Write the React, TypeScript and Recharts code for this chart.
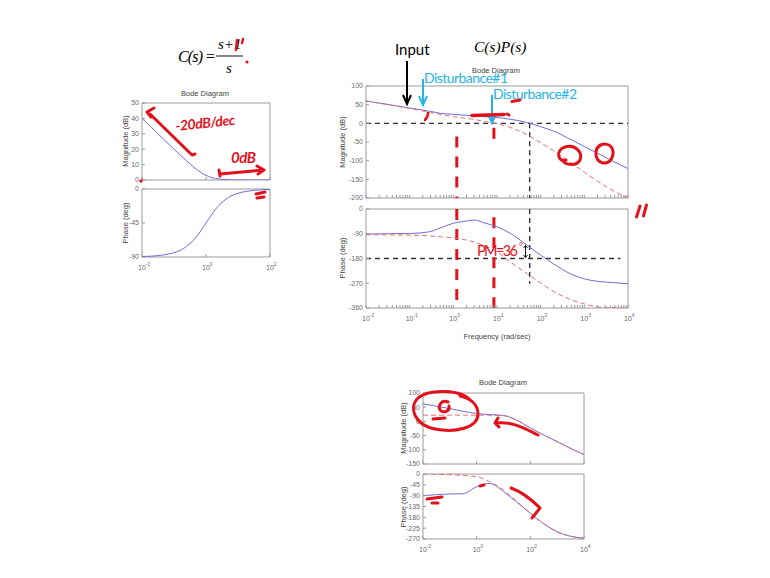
import React from 'react';
import { LineChart, Line, XAxis, YAxis, ReferenceLine, ReferenceArea } from 'recharts';

// ---------- data: C(s) = (s+1)/s ----------
const freqLeft = [0.01, 0.02, 0.05, 0.1, 0.2, 0.5, 1, 2, 5, 10, 20, 50, 100];
const magLeft = [40, 34, 26, 20, 14.2, 7, 3, 1, 0.2, 0.04, 0, 0, 0];
const phaseLeft = [-89.4, -88.9, -87.1, -84.3, -78.7, -63.4, -45, -26.6, -11.3, -5.7, -2.9, -1.1, -0.6];

// ---------- data: C(s)P(s) (blue) and P(s) (red dashed) ----------
const freqMid = [0.01, 0.03, 0.1, 0.3, 0.5, 1, 2, 3, 5, 10, 20, 50, 100, 200, 500, 1000, 2000, 5000, 10000];
const magOpen = [60, 51, 41, 32, 27, 24, 21.5, 20, 18, 15.5, 11, 2, -9, -21, -44, -62, -80, -104, -121];
const magPlant = [60, 50.5, 40, 29, 24, 18, 13, 10.5, 5, -1, -11, -31, -52, -74, -106, -131, -155, -183, -200];
const phaseOpen = [-91, -90, -89, -82, -69, -52, -44, -40, -50, -65, -88, -133, -168, -200, -237, -254, -263, -268, -272];
const phasePlant = [-94, -94, -95, -98, -101, -105, -113, -120, -133, -156, -192, -236, -269, -300, -330, -345, -356, -359, -360];

// ---------- data: bottom Bode diagram ----------
const freqBottom = [0.01, 0.03, 0.1, 0.3, 1, 3, 10, 30, 100, 300, 1000, 3000, 10000];
const magBottomBlue = [62, 54, 45, 36, 28, 24, 21, 5, -23, -47, -71, -94, -117];
const magBottomRed = [22, 22, 22, 22, 22, 21.5, 20, 5, -23, -47, -71, -94, -117];
const phaseBottomBlue = [-90, -86, -83, -82, -53, -39, -73, -115, -163, -205, -240, -258, -267];
const phaseBottomRed = [0, -1, -3, -6, -11, -32, -66, -112, -163, -205, -240, -258, -267];

// ---------- ticks ----------
const decadesMid = [0.01, 0.1, 1, 10, 100, 1000, 10000];
const minorMultipliers = [2, 3, 4, 5, 6, 7, 8, 9];
const ticksLeftX = [0.01, 1, 100];
const ticksBottomX = [0.01, 1, 100, 10000];
const ticksMagLeft = [0, 10, 20, 30, 40, 50];
const ticksPhaseLeft = [-90, -45, 0];
const ticksMagMid = [-200, -150, -100, -50, 0, 50, 100];
const ticksPhaseMid = [-360, -270, -180, -90, 0];
const ticksMagBottom = [-150, -100, -50, 0, 50, 100];
const ticksPhaseBottom = [-270, -225, -180, -135, -90, -45, 0];

const minorMid = decadesMid.slice(0, -1).flatMap((d) => minorMultipliers.map((m) => d * m));
const ticksMidX = [...decadesMid, ...minorMid].sort((a, b) => a - b);

const BLUE = '#6c6cdc';
const RED = '#e07272';
const FRAME = '#9a9a9a';
const TICK = '#6a6a6a';
const HAND = '#e2121c';
const CYAN = '#27b3e6';
const SANS = '"Liberation Sans", Arial, sans-serif';
const SERIF = '"Liberation Serif", "Times New Roman", serif';
const SLIDE = 'Lato, "Open Sans", sans-serif';

const PAD_L = 36;
const PAD_R = 8;
const PAD_T = 6;
const PAD_B = 22;

function LogTick(props: any) {
  const { x, y, payload, labels } = props;
  const v = payload.value;
  if (!labels || !labels.some((l: number) => Math.abs(l - v) / l < 1e-6)) return <g />;
  const e = Math.round(Math.log10(v));
  return (
    <text x={x - 4} y={y + 13} textAnchor="start" fontSize={7} fill={TICK} fontFamily={SANS}>
      <tspan>10</tspan>
      <tspan dy={-4} fontSize={5}>{String(e)}</tspan>
    </text>
  );
}

type Box = { l: number; t: number; r: number; b: number };
type Series = { key: string; color: string; dash?: string };

function Panel(props: {
  box: Box;
  data: any[];
  xDomain: [number, number];
  xTicks: number[];
  xLabels: number[];
  yDomain: [number, number];
  yTicks: number[];
  lines: Series[];
  children?: React.ReactNode;
}) {
  const { box, data, xDomain, xTicks, xLabels, yDomain, yTicks, lines, children } = props;
  const w = box.r - box.l + PAD_L + PAD_R;
  const h = box.b - box.t + PAD_T + PAD_B;
  return (
    <div style={{ position: 'absolute', left: box.l - PAD_L, top: box.t - PAD_T }}>
      <LineChart width={w} height={h} data={data} margin={{ top: PAD_T, right: PAD_R, left: 0, bottom: 0 }}>
        <XAxis
          dataKey="w"
          type="number"
          scale="log"
          domain={xDomain}
          ticks={xTicks}
          interval={0}
          height={PAD_B}
          tickSize={-3}
          tickMargin={3}
          axisLine={false}
          tickLine={{ stroke: FRAME }}
          tick={(p: any) => <LogTick {...p} labels={xLabels} />}
          allowDataOverflow
        />
        <YAxis
          type="number"
          domain={yDomain}
          ticks={yTicks}
          interval={0}
          width={PAD_L}
          tickSize={-3}
          tickMargin={6}
          axisLine={false}
          tickLine={{ stroke: FRAME }}
          tick={{ fontSize: 7, fill: TICK, fontFamily: SANS }}
          allowDataOverflow
        />
        <ReferenceArea
          x1={xDomain[0]}
          x2={xDomain[1]}
          y1={yDomain[0]}
          y2={yDomain[1]}
          fill="none"
          fillOpacity={0}
          stroke={FRAME}
          strokeWidth={1}
        />
        {children}
        {lines.map((s) => (
          <Line
            key={s.key}
            dataKey={s.key}
            type="monotone"
            stroke={s.color}
            strokeWidth={1}
            strokeDasharray={s.dash}
            dot={false}
            activeDot={false}
            isAnimationActive={false}
          />
        ))}
      </LineChart>
    </div>
  );
}

const dataLeft = freqLeft.map((w, i) => ({ w, mag: magLeft[i], ph: phaseLeft[i] }));
const dataMid = freqMid.map((w, i) => ({ w, mo: magOpen[i], mp: magPlant[i], po: phaseOpen[i], pp: phasePlant[i] }));
const dataBottom = freqBottom.map((w, i) => ({
  w,
  mb: magBottomBlue[i],
  mr: magBottomRed[i],
  pb: phaseBottomBlue[i],
  pr: phaseBottomRed[i],
}));

const BLACK_DASH = { stroke: '#333', strokeDasharray: '5 4', strokeWidth: 1.4 };
const HAND_DASH = { stroke: HAND, strokeDasharray: '11 9', strokeWidth: 3 };

function AxisTitle({ x, y, text, rotate }: { x: number; y: number; text: string; rotate?: boolean }) {
  return (
    <text
      x={x}
      y={y}
      textAnchor="middle"
      fontSize={7.5}
      fill="#444"
      fontFamily={SANS}
      transform={rotate ? `rotate(-90 ${x} ${y})` : undefined}
    >
      {text}
    </text>
  );
}

function Annotations() {
  const hs = { stroke: HAND, strokeWidth: 3, fill: 'none', strokeLinecap: 'round' as const, strokeLinejoin: 'round' as const };
  return (
    <svg width={770} height={578} style={{ position: 'absolute', left: 0, top: 0, pointerEvents: 'none' }}>
      {/* formula C(s) = (s+1)/s */}
      <text x={178} y={62} fontSize={16} fontStyle="italic" fontFamily={SERIF} textLength={25}>C(s)</text>
      <text x={206} y={62} fontSize={16} fontFamily={SERIF}>=</text>
      <text x={218} y={49} fontSize={15} fontStyle="italic" fontFamily={SERIF}>s+1</text>
      <line x1={216} y1={56} x2={243} y2={56} stroke="#111" strokeWidth={1} />
      <text x={226} y={73} fontSize={15} fontStyle="italic" fontFamily={SERIF}>s</text>
      <path d="M237,40 L236,50 M243,39 L242,43" {...hs} strokeWidth={2.5} />
      <circle cx={247} cy={62} r={1.6} fill={HAND} />

      {/* titles and axis labels */}
      <text x={205} y={96} textAnchor="middle" fontSize={7.5} fill="#444" fontFamily={SANS}>Bode Diagram</text>
      <text x={496} y={73} textAnchor="middle" fontSize={7.5} fill="#444" fontFamily={SANS}>Bode Diagram</text>
      <text x={503} y={385} textAnchor="middle" fontSize={7.5} fill="#444" fontFamily={SANS}>Bode Diagram</text>
      <AxisTitle x={128} y={141} text="Magnitude (dB)" rotate />
      <AxisTitle x={128} y={223} text="Phase (deg)" rotate />
      <AxisTitle x={345} y={142} text="Magnitude (dB)" rotate />
      <AxisTitle x={345} y={258} text="Phase (deg)" rotate />
      <AxisTitle x={497} y={339} text="Frequency  (rad/sec)" />
      <AxisTitle x={406} y={428} text="Magnitude (dB)" rotate />
      <AxisTitle x={406} y={507} text="Phase (deg)" rotate />

      {/* C(s)P(s), Input, disturbances */}
      <text x={474} y={52} fontSize={15.5} fontStyle="italic" fontFamily={SERIF}>C(s)P(s)</text>
      <text x={395} y={55} fontSize={15} fontFamily={SLIDE} fill="#000">Input</text>
      <path d="M407,61 L407,104 M403,95 L407,104 L411,95" stroke="#000" strokeWidth={2} fill="none" />
      <text x={424} y={83} fontSize={14} fontFamily={SLIDE} fill={CYAN} textLength={84}>Disturbance#1</text>
      <path d="M423,79 L423,105 M419,96 L423,105 L427,96" stroke={CYAN} strokeWidth={2} fill="none" />
      <text x={493} y={99} fontSize={14} fontFamily={SLIDE} fill={CYAN} textLength={84}>Disturbance#2</text>
      <path d="M492,95 L492,123 M488,114 L492,123 L496,114" stroke={CYAN} strokeWidth={2} fill="none" />

      {/* PM */}
      <text x={477} y={256} fontSize={14.5} fontFamily={SLIDE} fill={HAND} textLength={41}>PM=36</text>
      <text x={519} y={250} fontSize={9} fontFamily={SLIDE} fill={HAND}>°</text>
      <path d="M525.5,245.5 L525.5,257.5 M523.5,248 L525.5,245.5 L527.5,248 M523.5,255 L525.5,257.5 L527.5,255" stroke="#111" strokeWidth={1} fill="none" />

      {/* hand annotations: left chart */}
      <path d="M154,108 L147,112 L151,117 M150,114 L192,155 L195,154" {...hs} />
      <text x={176} y={131} fontSize={14} fontWeight="bold" fontStyle="italic" fontFamily={SLIDE} fill={HAND} textLength={60} transform="rotate(-6 176 131)">-20dB/dec</text>
      <text x={231} y={163} fontSize={15} fontWeight="bold" fontStyle="italic" fontFamily={SLIDE} fill={HAND} textLength={25}>0dB</text>
      <path d="M219,170 L220,176 M220,174 L263,170 M257,166 L264,170 L258,174" {...hs} />
      <path d="M256,194 L265,192 M257,198 L264,197" {...hs} />
      <circle cx={141} cy={181} r={1.7} fill={HAND} />

      {/* hand annotations: middle chart */}
      <path d="M472,115.5 L504,114.5" {...hs} strokeWidth={3.5} />
      <path d="M507,114 L509,115 M512,101.5 L520,100" {...hs} />
      <path d="M428,113 Q428,117 425,120" {...hs} strokeWidth={2.5} />
      <path d="M566,160 C558,163 555,150 565,147 C575,144 583,152 580,160 C577,166 566,166 562,160" {...hs} />
      <path d="M601,145 C594,148 594,161 603,163 C611,164 615,155 612,148 C609,143 602,143 598,147" {...hs} />
      <path d="M640,206 L636.5,217 M646.5,205 L643.5,216" {...hs} />

      {/* hand annotations: bottom chart */}
      <path d="M470,400 C462,390 430,388 418,398 C408,408 415,425 435,429 C455,433 478,428 478,414 C478,404 470,398 460,396" {...hs} />
      <path d="M448,402 C441,399 437,407 441,411 C445,413 450,411 449,406" {...hs} />
      <path d="M433,419 L445,418" {...hs} />
      <path d="M495,423 C512,421 524,428 538,435 M498,418 L495,423 L499,427" {...hs} />
      <path d="M427,499 L442,497 M432,503 L438,503 M480,486 L484,485" {...hs} />
      <path d="M511,488 C522,492 532,500 540,508 L532,518 M540,508 L536,504" {...hs} />
    </svg>
  );
}

export default function App() {
  const midX: [number, number] = [0.01, 10000];
  return (
    <div style={{ position: 'absolute', left: 0, top: 0, width: 770, height: 578, background: '#fff', overflow: 'hidden' }}>
      {/* left: C(s) */}
      <Panel
        box={{ l: 142, t: 103, r: 270, b: 180 }}
        data={dataLeft}
        xDomain={[0.01, 100]}
        xTicks={ticksLeftX}
        xLabels={[]}
        yDomain={[0, 50]}
        yTicks={ticksMagLeft}
        lines={[{ key: 'mag', color: BLUE }]}
      />
      <Panel
        box={{ l: 142, t: 189, r: 270, b: 257 }}
        data={dataLeft}
        xDomain={[0.01, 100]}
        xTicks={ticksLeftX}
        xLabels={ticksLeftX}
        yDomain={[-90, 0]}
        yTicks={ticksPhaseLeft}
        lines={[{ key: 'ph', color: BLUE }]}
      />

      {/* middle: C(s)P(s) */}
      <Panel
        box={{ l: 366, t: 86, r: 628, b: 198 }}
        data={dataMid}
        xDomain={midX}
        xTicks={ticksMidX}
        xLabels={[]}
        yDomain={[-200, 100]}
        yTicks={ticksMagMid}
        lines={[
          { key: 'mo', color: BLUE },
          { key: 'mp', color: RED, dash: '5 3' },
        ]}
      >
        <ReferenceLine y={0} {...BLACK_DASH} />
        <ReferenceLine segment={[{ x: 56, y: 0 }, { x: 56, y: -200 }]} {...BLACK_DASH} />
        <ReferenceLine segment={[{ x: 1.2, y: -35 }, { x: 1.2, y: -200 }]} {...HAND_DASH} />
        <ReferenceLine segment={[{ x: 8.5, y: -12 }, { x: 8.5, y: -60 }]} {...HAND_DASH} />
      </Panel>
      <Panel
        box={{ l: 366, t: 209, r: 628, b: 308 }}
        data={dataMid}
        xDomain={midX}
        xTicks={ticksMidX}
        xLabels={decadesMid}
        yDomain={[-360, 0]}
        yTicks={ticksPhaseMid}
        lines={[
          { key: 'po', color: BLUE },
          { key: 'pp', color: RED, dash: '5 3' },
        ]}
      >
        <ReferenceLine segment={[{ x: 0.01, y: -180 }, { x: 6700, y: -180 }]} {...BLACK_DASH} />
        <ReferenceLine segment={[{ x: 56, y: 0 }, { x: 56, y: -272 }]} {...BLACK_DASH} />
        <ReferenceLine segment={[{ x: 1.2, y: 0 }, { x: 1.2, y: -360 }]} {...HAND_DASH} />
        <ReferenceLine segment={[{ x: 8.5, y: -30 }, { x: 8.5, y: -360 }]} {...HAND_DASH} />
      </Panel>

      {/* bottom */}
      <Panel
        box={{ l: 423, t: 393, r: 584, b: 464 }}
        data={dataBottom}
        xDomain={midX}
        xTicks={ticksBottomX}
        xLabels={[]}
        yDomain={[-150, 100]}
        yTicks={ticksMagBottom}
        lines={[
          { key: 'mb', color: BLUE },
          { key: 'mr', color: RED, dash: '5 3' },
        ]}
      />
      <Panel
        box={{ l: 423, t: 474, r: 584, b: 539 }}
        data={dataBottom}
        xDomain={midX}
        xTicks={ticksBottomX}
        xLabels={ticksBottomX}
        yDomain={[-270, 0]}
        yTicks={ticksPhaseBottom}
        lines={[
          { key: 'pb', color: BLUE },
          { key: 'pr', color: RED, dash: '5 3' },
        ]}
      />

      <Annotations />
    </div>
  );
}
